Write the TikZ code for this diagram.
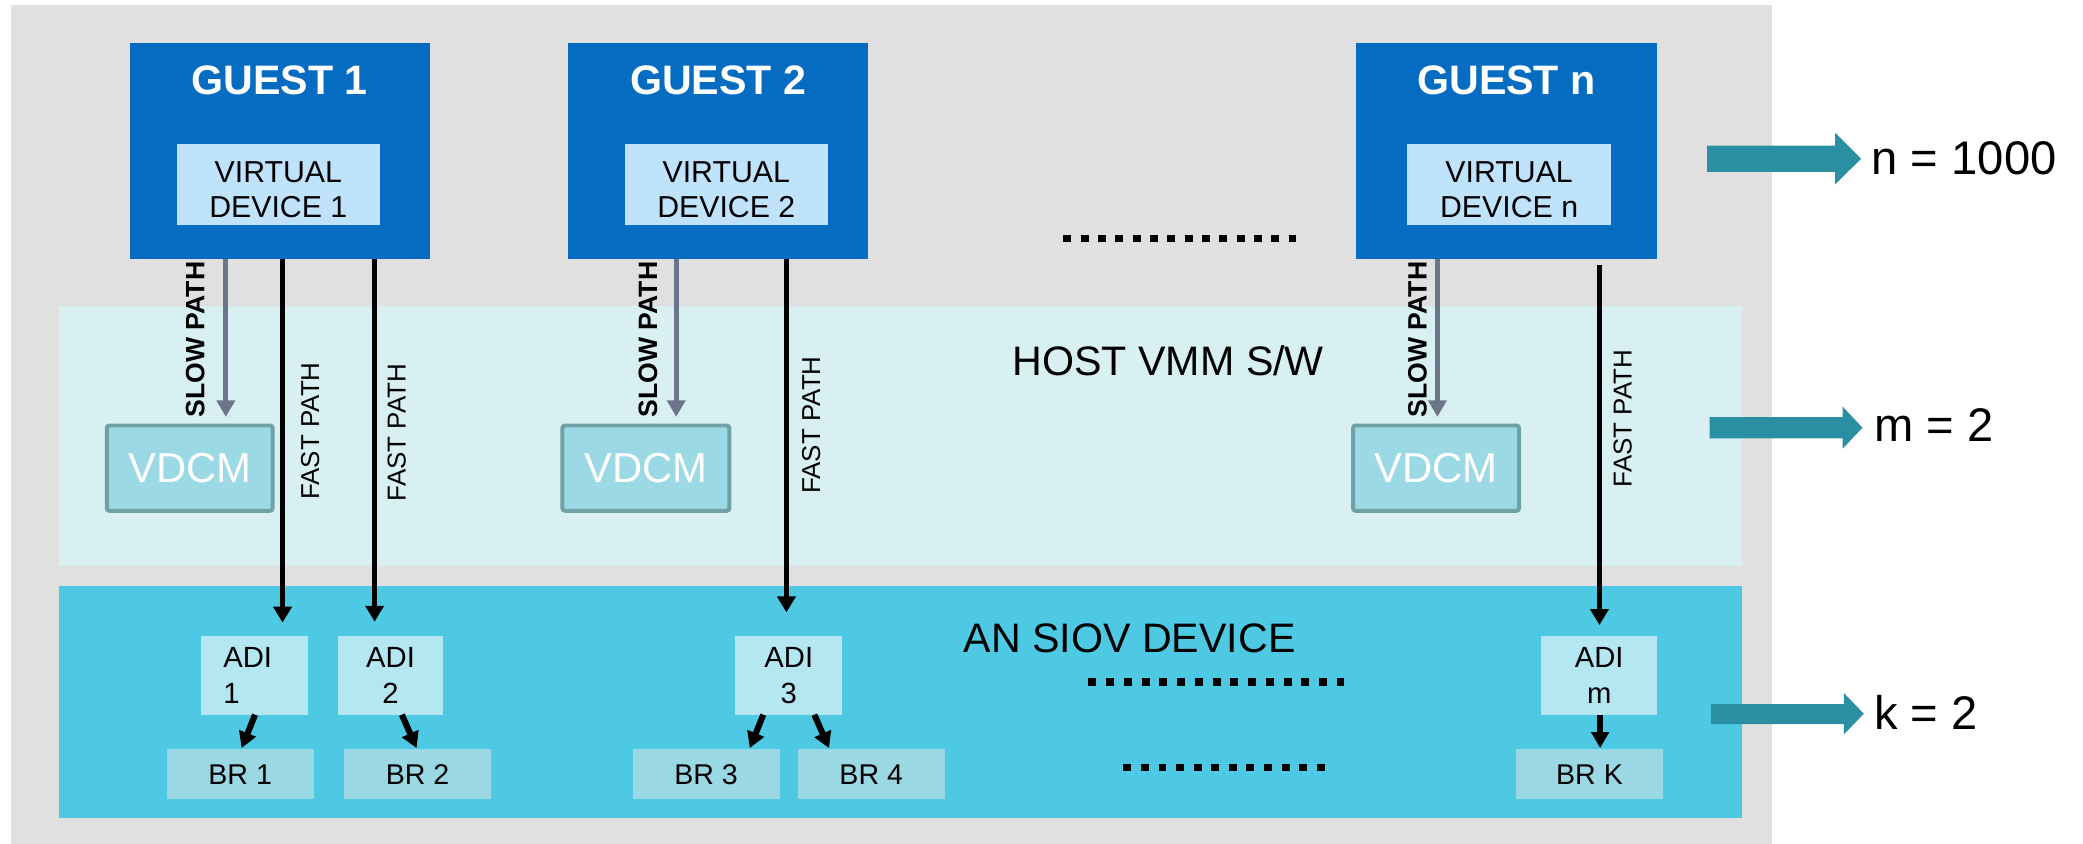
\documentclass[tikz,border=0pt]{standalone}
\usepackage{fontspec}
\setmainfont{Liberation Sans}
\usetikzlibrary{arrows.meta,calc}
\definecolor{outerbg}{HTML}{E0E0E0}
\definecolor{guestblue}{HTML}{056CC2}
\definecolor{vdfill}{HTML}{BEE3FB}
\definecolor{hostband}{HTML}{D8F0F1}
\definecolor{siovband}{HTML}{4DC9E3}
\definecolor{vdcmfill}{HTML}{9BD9E4}
\definecolor{vdcmborder}{HTML}{6FA1A6}
\definecolor{adifill}{HTML}{B4E7F2}
\definecolor{brfill}{HTML}{9AD8E3}
\definecolor{slowgray}{HTML}{6C768A}
\definecolor{tealarrow}{HTML}{2A8FA2}
\tikzset{
  boxbase/.style={inner sep=0pt, outer sep=0pt, draw=none},
  guest/.style={boxbase, fill=guestblue, minimum width=113pt, minimum height=81.2pt},
  gtitle/.style={inner sep=0pt, anchor=base, text=white, font=\fontsize{15.5}{18}\selectfont\bfseries},
  vdbox/.style={boxbase, fill=vdfill, minimum width=76.5pt, minimum height=30.4pt},
  vdtxt/.style={inner sep=0pt, align=center, font=\fontsize{11.4}{13.4}\selectfont},
  vdcm/.style={draw=vdcmborder, line width=1.5pt, fill=vdcmfill, rounded corners=1pt,
    minimum width=62.4pt, minimum height=32.1pt, inner sep=0pt, outer sep=0pt,
    text=white, font=\fontsize{15.75}{18}\selectfont},
  adi/.style={boxbase, fill=adifill, minimum height=29.5pt, align=center,
    font=\fontsize{11}{13.75}\selectfont},
  brbox/.style={boxbase, fill=brfill, minimum width=55.3pt, minimum height=18.85pt,
    font=\fontsize{10.75}{13}\selectfont},
  fastpath/.style={line width=1.9pt, -{Triangle[width=6.75pt,length=6pt]}},
  slowpath/.style={draw=slowgray, line width=1.9pt, -{Triangle[width=6.75pt,length=6.25pt]}},
  brarrow/.style={line width=2.3pt, -{Triangle[width=6.5pt,length=6pt]}},
  fastlbl/.style={rotate=90, inner sep=0pt, font=\fontsize{9.75}{11}\selectfont},
  slowlbl/.style={rotate=90, inner sep=0pt, font=\fontsize{10}{11}\selectfont\bfseries},
  bigtxt/.style={inner sep=0pt, anchor=base, font=\fontsize{15.5}{18}\selectfont},
  sidetxt/.style={inner sep=0pt, anchor=base west, font=\fontsize{17.75}{20}\selectfont},
  dotrow/.style={line width=2.75pt},
  sidearrow/.style={fill=tealarrow},
}
\begin{document}
\begin{tikzpicture}[x=0.5pt,y=0.5pt]
\useasboundingbox (0,0) rectangle (1568,-635);
% backgrounds
\fill[outerbg] (8.4,-3.8) rectangle (1334,-635);
\fill[hostband] (44.6,-230) rectangle (1311,-426);
\fill[siovband] (44.6,-441) rectangle (1311,-616);

% guests
\node[guest] (g1) at (210.5,-113.8) {};
\node[guest] (g2) at (540.6,-113.8) {};
\node[guest] (gn) at (1134,-113.8) {};
\node[gtitle] (g1t) at (210.5,-71.5) {GUEST 1};
\node[gtitle] (g2t) at (540.6,-71.5) {GUEST 2};
\node[gtitle] (gnt) at (1134,-71.5) {GUEST n};

% virtual devices
\node[vdbox] (vd1) at (209.5,-139) {};
\node[vdbox] (vd2) at (546.7,-139) {};
\node[vdbox, minimum width=77pt] (vdn) at (1136,-139) {};
\node[vdtxt] (vd1t) at (209.5,-142.8) {VIRTUAL\\DEVICE 1};
\node[vdtxt] (vd2t) at (546.7,-142.8) {VIRTUAL\\DEVICE 2};
\node[vdtxt] (vdnt) at (1136,-142.8) {VIRTUAL\\DEVICE n};

% dots between guests
\draw[dotrow, dash pattern=on 3pt off 3.52pt] (800.5,-179.4) -- (975.6,-179.4);

% host texts
\node[bigtxt] (host) at (879.4,-282.3) {HOST VMM S/W};
\node[bigtxt] (siov) at (850.3,-491) {AN SIOV DEVICE};

% VDCM
\node[vdcm] (vdcm1) at (142.8,-352.4) {VDCM};
\node[vdcm, minimum width=62.85pt] (vdcm2) at (486.2,-352.4) {VDCM};
\node[vdcm, minimum width=62.5pt] (vdcmn) at (1081,-352.4) {VDCM};

% ADIs
\node[adi, align=left, minimum width=40.5pt] (adi1) at (191.5,-508.5) {ADI\hspace*{5pt}\\1};
\node[adi, minimum width=39.5pt] (adi2) at (294,-508.5) {ADI\\2};
\node[adi, minimum width=40.25pt] (adi3) at (593.8,-508.5) {ADI\\3};
\node[adi, minimum width=43.75pt] (adim) at (1203.8,-508.5) {ADI\\m};

% BRs
\node[brbox] (br1) at (180.8,-582.9) {BR 1};
\node[brbox] (br2) at (314.3,-582.9) {BR 2};
\node[brbox] (br3) at (531.5,-582.9) {BR 3};
\node[brbox] (br4) at (655.8,-582.9) {BR 4};
\node[brbox] (brk) at (1196.5,-582.9) {BR K};

% dots in SIOV device
\draw[dotrow, dash pattern=on 3pt off 3.68pt] (819.3,-513.4) -- (1012,-513.4);
\draw[dotrow, dash pattern=on 3pt off 3.62pt] (845.6,-577.6) -- (998.2,-577.6);

% path x positions
\coordinate (s1) at (170,0);
\coordinate (s2) at (509,0);
\coordinate (sn) at (1082,0);
\coordinate (f1) at (212.7,0);
\coordinate (f2) at (282,0);
\coordinate (f3) at (592,0);
\coordinate (fn) at (1204,0);

% slow paths
\draw[slowpath, shorten >=3.25pt] (g1.south -| s1) -- (vdcm1.north -| s1);
\draw[slowpath, shorten >=3.25pt] (g2.south -| s2) -- (vdcm2.north -| s2);
\draw[slowpath, shorten >=3.25pt] (gn.south -| sn) -- (vdcmn.north -| sn);
\node[slowlbl] (sl1) at (147,-255.5) {SLOW PATH};
\node[slowlbl] (sl2) at (487.8,-255.5) {SLOW PATH};
\node[slowlbl] (sln) at (1067,-255.5) {SLOW PATH};

% fast paths
\draw[fastpath, shorten >=5.15pt] (g1.south -| f1) -- (adi1.north -| f1);
\draw[fastpath, shorten >=5.5pt] (g1.south -| f2) -- (adi2.north -| f2);
\draw[fastpath, shorten >=9pt] (g2.south -| f3) -- (adi3.north -| f3);
\draw[fastpath, shorten <=2.25pt, shorten >=4.25pt] (gn.south -| fn) -- (adim.north -| fn);
\node[fastlbl] (fl1) at (233.5,-324.5) {FAST PATH};
\node[fastlbl] (fl2) at (298.6,-325.5) {FAST PATH};
\node[fastlbl] (fl3) at (610.7,-320) {FAST PATH};
\node[fastlbl] (fln) at (1221.4,-315) {FAST PATH};

% ADI -> BR
\draw[brarrow, shorten >=0.5pt] ([xshift=0.25pt]adi1.south) -- ([xshift=0.35pt]br1.north);
\draw[brarrow, shorten >=0.5pt] ([xshift=4.25pt]adi2.south) -- ([xshift=-0.15pt]br2.north);
\draw[brarrow, shorten >=0.5pt] ([xshift=-9.6pt]adi3.south) -- ([xshift=16.25pt]br3.north);
\draw[brarrow, shorten >=0.5pt] ([xshift=9.6pt]adi3.south) -- ([xshift=-15.65pt]br4.north);
\draw[brarrow, shorten >=0.5pt] ([xshift=0.35pt]adim.south) -- ([xshift=4pt]brk.north);

% side arrows
\fill[sidearrow] (1285,-109.7) -- (1381.4,-109.7) -- (1381.4,-100) -- (1401,-119.5)
  -- (1381.4,-138.8) -- (1381.4,-129.3) -- (1285,-129.3) -- cycle;
\fill[sidearrow] (1287,-314) -- (1387,-314) -- (1387,-306) -- (1402,-322)
  -- (1387,-337.8) -- (1387,-330) -- (1287,-330) -- cycle;
\fill[sidearrow] (1288,-530) -- (1388,-530) -- (1388,-521.7) -- (1403,-537.3)
  -- (1388,-552.8) -- (1388,-545) -- (1288,-545) -- cycle;
\node[sidetxt] (nval) at (1408.5,-131.7) {n = 1000};
\node[sidetxt] (mval) at (1410.5,-332.5) {m = 2};
\node[sidetxt] (kval) at (1410.5,-549.5) {k = 2};
\end{tikzpicture}
\end{document}
